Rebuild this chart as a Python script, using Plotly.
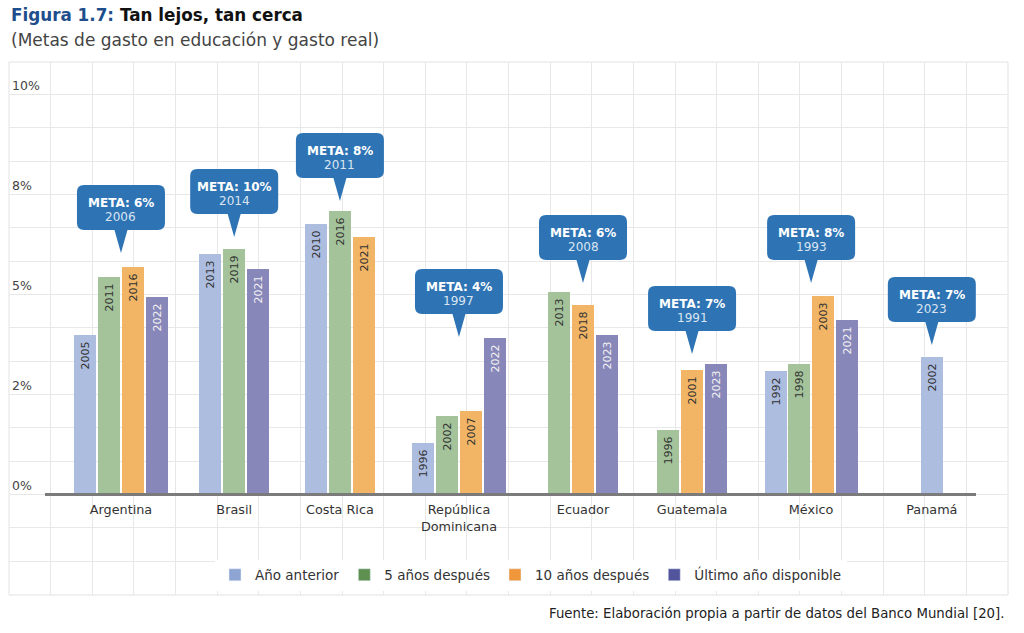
import plotly.graph_objects as go

# ---------------- DATA ----------------
countries = ["Argentina", "Brasil", "Costa Rica", "República<br>Dominicana",
             "Ecuador", "Guatemala", "México", "Panamá"]
series_names = ["Año anterior", "5 años después", "10 años después", "Último año disponible"]

# gasto en educación (% del PIB) por serie; None = sin dato
anio_anterior = [3.98, 6.01, 6.77, 1.28, None, None, 3.08, 3.45]
cinco_anios = [5.44, 6.13, 7.08, 1.96, 5.07, 1.61, 3.27, None]
diez_anios = [5.69, None, 6.43, 2.10, 4.75, 3.12, 4.97, None]
ultimo_anio = [4.94, 5.65, None, 3.92, 4.00, 3.27, 4.37, None]

anio_anterior_years = ["2005", "2013", "2010", "1996", None, None, "1992", "2002"]
cinco_anios_years = ["2011", "2019", "2016", "2002", "2013", "1996", "1998", None]
diez_anios_years = ["2016", None, "2021", "2007", "2018", "2001", "2003", None]
ultimo_anio_years = ["2022", "2021", None, "2022", "2023", "2023", "2021", None]

meta_pct = [6, 10, 8, 4, 6, 7, 8, 7]
meta_year = [2006, 2014, 2011, 1997, 2008, 1991, 1993, 2023]

y_tick_vals = [0, 2.5, 5, 7.5, 10]
y_tick_text = ["0%", "2%", "5%", "8%", "10%"]

# ---------------- LAYOUT / STYLE ----------------
FONT = "'DejaVu Sans', sans-serif"
bar_colors = ["#adbde0", "#a4c39a", "#f1b565", "#8887b9"]
legend_colors = ["#8ea5d4", "#5e9150", "#f0973c", "#52549c"]
text_colors = ["#333333", "#333333", "#333333", "#f2f2f2"]
callout_color = "#2e74b5"

W, H = 1024, 633
L, R, T, B = 9, 16, 62, 38
plot_w = W - L - R          # 999
plot_h = H - T - B          # 533
n_cols = 24                 # background grid columns
px_x = n_cols / plot_w      # x units per pixel
px_y = 1 / 40.0             # y units (%) per pixel
y_range = [-(595 - 494.5) * px_y, (494.5 - 62) * px_y]

group_centers = [2.69, 5.41, 7.95, 10.81, 13.79, 16.41, 19.27, 22.17]  # in grid-column units
callout_tip = [6.04, 6.44, 7.34, 3.94, 5.29, 3.51, 5.29, 3.74]         # y of callout pointer
bar_pitch = 23.7 * px_x
bar_width = 22.0 * px_x

all_vals = [anio_anterior, cinco_anios, diez_anios, ultimo_anio]
all_years = [anio_anterior_years, cinco_anios_years, diez_anios_years, ultimo_anio_years]

# compute bar positions (bars in each group packed and centered)
xs = [[] for _ in range(4)]
ys = [[] for _ in range(4)]
ts = [[] for _ in range(4)]
for g in range(len(countries)):
    present = [s for s in range(4) if all_vals[s][g] is not None]
    n = len(present)
    for j, s in enumerate(present):
        xs[s].append(group_centers[g] + (j - (n - 1) / 2) * bar_pitch)
        ys[s].append(all_vals[s][g])
        ts[s].append(all_years[s][g] + "\u00a0")

fig = go.Figure()
for s in range(4):
    fig.add_trace(go.Bar(
        x=xs[s], y=ys[s], text=ts[s], width=bar_width,
        marker=dict(color=bar_colors[s], line=dict(width=0)),
        textposition="inside", insidetextanchor="end", textangle=-90,
        textfont=dict(family=FONT, size=11, color=text_colors[s]),
        constraintext="none", showlegend=False, hoverinfo="skip",
        cliponaxis=False,
    ))
# legend entries (stronger swatch colours as in the reference)
for s in range(4):
    fig.add_trace(go.Bar(x=[None], y=[None], name=series_names[s],
                         marker=dict(color=legend_colors[s]), showlegend=True))

shapes = []
annotations = []

def ppx(p):  # pixel x -> paper
    return (p - L) / plot_w

def ppy(p):  # pixel y -> paper
    return (H - B - p) / plot_h

# plot frame
shapes.append(dict(type="rect", xref="paper", yref="paper", x0=0, x1=1, y0=0, y1=1,
                   line=dict(color="#e2e2e2", width=1), layer="below"))
# baseline
shapes.append(dict(type="line", xref="x", yref="y", x0=(45 - L) * px_x, x1=(976 - L) * px_x,
                   y0=0, y1=0, line=dict(color="#7b7b7b", width=3)))

# callouts
bw, bh, th, tb, rr = 88, 45, 23, 13, 7
for g in range(len(countries)):
    cx = group_centers[g]
    ty = callout_tip[g]
    bot = ty + th * px_y
    top = bot + bh * px_y
    lft = cx - bw / 2 * px_x
    rgt = cx + bw / 2 * px_x
    rx, ry = rr * px_x, rr * px_y
    hb = tb / 2 * px_x
    path = (f"M{lft+rx},{bot} L{cx-hb},{bot} L{cx},{ty} L{cx+hb},{bot} L{rgt-rx},{bot} "
            f"Q{rgt},{bot} {rgt},{bot+ry} L{rgt},{top-ry} Q{rgt},{top} {rgt-rx},{top} "
            f"L{lft+rx},{top} Q{lft},{top} {lft},{top-ry} L{lft},{bot+ry} Q{lft},{bot} {lft+rx},{bot} Z")
    shapes.append(dict(type="path", xref="x", yref="y", path=path,
                       fillcolor=callout_color, line=dict(width=0)))
    annotations.append(dict(x=cx, y=ty, xref="x", yref="y", showarrow=False,
                            text=f"<b>META: {meta_pct[g]}%</b>", yshift=th + bh - 18,
                            font=dict(family=FONT, size=12, color="#ffffff"),
                            xanchor="center", yanchor="middle"))
    annotations.append(dict(x=cx, y=ty, xref="x", yref="y", showarrow=False,
                            text=str(meta_year[g]), yshift=th + bh - 32,
                            font=dict(family=FONT, size=12, color="#dbe5f1"),
                            xanchor="center", yanchor="middle"))

# titles and source
annotations.append(dict(xref="paper", yref="paper", x=ppx(9), y=ppy(15), showarrow=False,
                        xanchor="left", yanchor="middle",
                        text="<b><span style='color:#1f4e8c'>Figura 1.7:</span> Tan lejos, tan cerca</b>",
                        font=dict(family=FONT, size=16.8, color="#111111")))
annotations.append(dict(xref="paper", yref="paper", x=ppx(9), y=ppy(40), showarrow=False,
                        xanchor="left", yanchor="middle",
                        text="(Metas de gasto en educación y gasto real)",
                        font=dict(family=FONT, size=17, color="#444444")))
annotations.append(dict(xref="paper", yref="paper", x=ppx(1006), y=ppy(613), showarrow=False,
                        xanchor="right", yanchor="middle",
                        text="Fuente: Elaboración propia a partir de datos del Banco Mundial [20].",
                        font=dict(family=FONT, size=13.3, color="#222222")))

grid_color = "#e8e8e8"
fig.update_layout(
    width=W, height=H, margin=dict(l=L, r=R, t=T, b=B),
    paper_bgcolor="white", plot_bgcolor="white",
    font=dict(family=FONT, color="#333333"),
    barmode="overlay", bargap=0,
    shapes=shapes, annotations=annotations,
    legend=dict(orientation="h", x=ppx(531), xanchor="center", y=ppy(575), yanchor="middle",
                bgcolor="white", font=dict(family=FONT, size=13.5, color="#333333"),
                itemclick=False, itemdoubleclick=False, traceorder="normal"),
    xaxis=dict(range=[0, n_cols], tickmode="array", tickvals=group_centers, ticktext=countries,
               showgrid=False, zeroline=False, showline=False, ticks="",
               anchor="free", position=ppy(494.5), ticklabelstandoff=6,
               tickfont=dict(family=FONT, size=12.8, color="#333333"),
               minor=dict(tickmode="linear", tick0=0, dtick=1, showgrid=True,
                          gridcolor=grid_color, gridwidth=1, ticks=""),
               fixedrange=True),
    yaxis=dict(range=y_range, tickmode="array", tickvals=y_tick_vals, ticktext=y_tick_text,
               showgrid=True, gridcolor=grid_color, zeroline=False, showline=False, ticks="",
               ticklabelposition="inside top",
               tickfont=dict(family=FONT, size=12.5, color="#444444"),
               minor=dict(tickmode="linear", tick0=0, dtick=2.5 / 3, showgrid=True,
                          gridcolor=grid_color, gridwidth=1, ticks=""),
               fixedrange=True),
)

fig.write_html("out.html")
